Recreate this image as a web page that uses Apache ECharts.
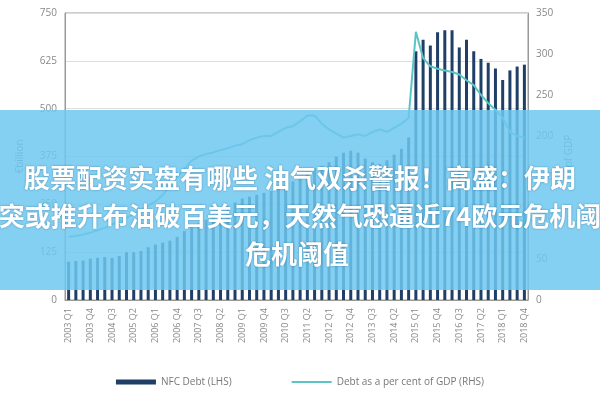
<!DOCTYPE html>
<html>
<head>
<meta charset="utf-8">
<script src="https://cdn.jsdelivr.net/npm/echarts@6/dist/echarts.min.js"></script>
<style>html,body{margin:0;padding:0;background:#fff}#main{width:600px;height:400px}</style>
</head>
<body>
<div id="main"></div>
<script>
// 季度 2003Q1 - 2018Q4
const quarters = [];
for (let y = 2003; y <= 2018; y++) for (let q = 1; q <= 4; q++) quarters.push(y + " Q" + q);

const nfcDebt = [
  100, 102, 103, 108, 110, 112, 110, 115, 125, 125, 128, 138, 145, 150, 155, 165,
  180, 190, 200, 210, 220, 230, 245, 255, 265, 270, 275, 280, 285, 295, 300, 310,
  320, 335, 345, 350, 360, 375, 385, 390, 385, 370, 360, 355, 365, 380, 395, 425,
  650, 680, 665, 700, 705, 705, 660, 680, 650, 630, 620, 605, 575, 600, 610, 615
];
const debtGdp = [
  77, 78, 80, 82, 85, 88, 92, 95, 100, 105, 110, 115, 120, 128, 140, 150,
  160, 170, 175, 178, 180, 183, 185, 188, 190, 195, 198, 200, 200, 205, 210, 212,
  218, 225, 225, 215, 208, 203, 198, 200, 202, 200, 205, 208, 205, 210, 215, 222,
  327, 295, 285, 282, 280, 278, 275, 268, 262, 250, 240, 232, 222, 205, 200, 198
];
const bannerLines = [
  "股票配资实盘有哪些 油气双杀警报！高盛：伊朗",
  "突或推升布油破百美元，天然气恐逼近74欧元危机阈",
  "危机阈值"
];

const chart = echarts.init(document.getElementById("main"));
const axisText = { color: "#888", fontSize: 10, fontFamily: "Open Sans" };
chart.setOption({
  animation: false,
  grid: { left: 65, right: 72, top: 13, bottom: 100, show: true, borderColor: "#999", borderWidth: 1 },
  legend: {
    bottom: 8, itemGap: 60, itemWidth: 40, itemHeight: 5,
    textStyle: { color: "#777", fontSize: 10, fontFamily: "Open Sans" },
    data: [
      { name: "NFC Debt (LHS)", icon: "rect" },
      { name: "Debt as a per cent of GDP (RHS)", icon: "path://M0,0H40V2H0Z" }
    ]
  },
  xAxis: {
    type: "category", data: quarters,
    axisLine: { lineStyle: { color: "#999" } },
    axisTick: { show: false },
    axisLabel: { ...axisText, fontSize: 9, rotate: 90, interval: 2 }
  },
  yAxis: [
    {
      type: "value", min: 0, max: 750, interval: 125,
      name: "€billion", nameLocation: "middle", nameGap: 40, nameRotate: 90,
      nameTextStyle: axisText,
      axisLabel: axisText,
      axisLine: { show: true, lineStyle: { color: "#999" } },
      splitLine: { lineStyle: { color: "#ddd" } }
    },
    {
      type: "value", min: 0, max: 350, interval: 50,
      name: "% of GDP", nameLocation: "middle", nameGap: 35, nameRotate: 90,
      nameTextStyle: axisText,
      axisLabel: axisText,
      axisLine: { show: true, lineStyle: { color: "#999" } },
      splitLine: { show: false }
    }
  ],
  series: [
    {
      name: "NFC Debt (LHS)", type: "bar", data: nfcDebt, barWidth: 3,
      itemStyle: { color: "#1f3f66" }
    },
    {
      name: "Debt as a per cent of GDP (RHS)", type: "line", yAxisIndex: 1,
      data: debtGdp, symbol: "none",
      lineStyle: { color: "#5bc4c4", width: 2 }, itemStyle: { color: "#5bc4c4" }
    }
  ],
  graphic: [
    {
      type: "rect", left: 0, top: 110, z: 100,
      shape: { width: 600, height: 180 },
      style: { fill: "rgba(110,200,240,0.85)" }
    },
    ...bannerLines.map((t, i) => ({
      type: "text", z: 101,
      left: i === 2 ? 245 : "center", top: 165 + i * 38,
      style: {
        text: t, fill: "#fff", font: "bold 26px 'Noto Sans CJK SC'",
        textShadowColor: "rgba(0,60,100,0.5)", textShadowBlur: 2
      }
    }))
  ]
});
</script>
</body>
</html>
